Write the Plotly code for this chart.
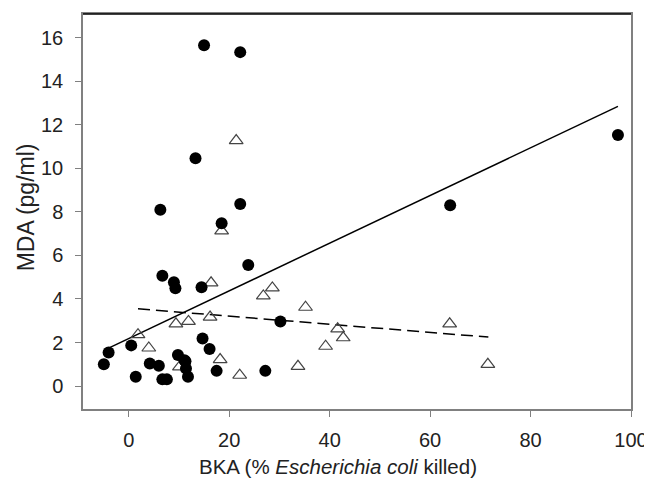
import plotly.graph_objects as go

# Filled circles series
circle_x = [15.0, 22.2, 13.3, 6.3, 22.2, 18.5, 23.8, 6.7, 9.0, 9.3, 14.5, 30.2, -4.0, 0.5,
            -4.95, 14.7, 16.1, 9.8, 11.3, 4.2, 6.0, 1.4, 6.7, 7.6, 11.8, 17.5, 27.2,
            11.1, 11.4, 64.0, 97.4]
circle_y = [15.65, 15.33, 10.46, 8.10, 8.36, 7.48, 5.56, 5.07, 4.77, 4.49, 4.54, 2.97, 1.54, 1.87,
            1.0, 2.19, 1.70, 1.43, 1.14, 1.04, 0.94, 0.43, 0.31, 0.31, 0.43, 0.70, 0.70,
            1.19, 0.81, 8.30, 11.53]

# Open triangles series
tri_x = [21.4, 18.5, 16.4, 26.8, 28.6, 1.85, 9.4, 11.9, 16.2, 4.0, 18.2, 10.1, 22.1,
         33.7, 35.2, 41.6, 42.7, 39.2, 63.9, 71.5]
tri_y = [11.27, 7.13, 4.74, 4.14, 4.51, 2.36, 2.86, 2.97, 3.17, 1.75, 1.22, 0.88, 0.50,
         0.91, 3.62, 2.63, 2.22, 1.83, 2.86, 1.0]

# Regression lines (endpoints)
fit_solid_x = [-3.8, 97.4]
fit_solid_y = [1.77, 12.84]
fit_dash_x = [1.85, 71.6]
fit_dash_y = [3.55, 2.25]

x_ticks = [0, 20, 40, 60, 80, 100]
y_ticks = [0, 2, 4, 6, 8, 10, 12, 14, 16]

FONT = "Liberation Sans, Arial"

# page body has an 8px margin; figure is sized to fill the rest of the window
W, H = 644, 473
L, R, T, B = 75, 18, 4, 72
pw, ph = W - L - R, H - T - B

fig = go.Figure()
fig.add_trace(go.Scatter(x=fit_solid_x, y=fit_solid_y, mode="lines",
                         line=dict(color="black", width=1.5), showlegend=False))
fig.add_trace(go.Scatter(x=fit_dash_x, y=fit_dash_y, mode="lines",
                         line=dict(color="black", width=1.5, dash="12px,6px"), showlegend=False))
fig.add_trace(go.Scatter(x=tri_x, y=tri_y, mode="markers",
                         marker=dict(symbol="triangle-up-open", size=12, color="#444",
                                     line=dict(width=1.2, color="#444")), showlegend=False))
fig.add_trace(go.Scatter(x=circle_x, y=circle_y, mode="markers",
                         marker=dict(symbol="circle", size=12, color="black"), showlegend=False))

axis_common = dict(showgrid=False, zeroline=False, showline=True, linecolor="#808080",
                   linewidth=1.5, mirror=True, ticks="outside", ticklen=6, tickwidth=1,
                   tickcolor="#808080",
                   tickfont=dict(family=FONT, size=20, color="#222"))

fig.update_layout(
    width=W, height=H,
    margin=dict(l=L, r=R, t=T, b=B),
    plot_bgcolor="white", paper_bgcolor="white",
    xaxis=dict(range=[-9.1, 100], tickvals=x_ticks, ticklabelstandoff=6, **axis_common),
    yaxis=dict(range=[-1.05, 17.08], tickvals=y_ticks, ticklabelstandoff=8, **axis_common),
    annotations=[
        dict(text="BKA (% <i>Escherichia coli</i> killed)", xref="paper", yref="paper",
             x=(339 - 8 - L) / pw, y=-(467 - 409) / ph, xanchor="center",
             yanchor="middle", showarrow=False, font=dict(family=FONT, size=20.5, color="#222")),
        dict(text="MDA (pg/ml)", xref="paper", yref="paper", textangle=-90,
             x=(26 - 8 - L) / pw, y=(409 - 206) / ph, xanchor="center",
             yanchor="middle", showarrow=False, font=dict(family=FONT, size=23, color="#222")),
    ],
)
# darker top border
fig.add_shape(type="line", xref="paper", yref="paper", x0=0, x1=1, y0=1, y1=1,
              line=dict(color="black", width=1.5))

fig.write_html("out.html")
